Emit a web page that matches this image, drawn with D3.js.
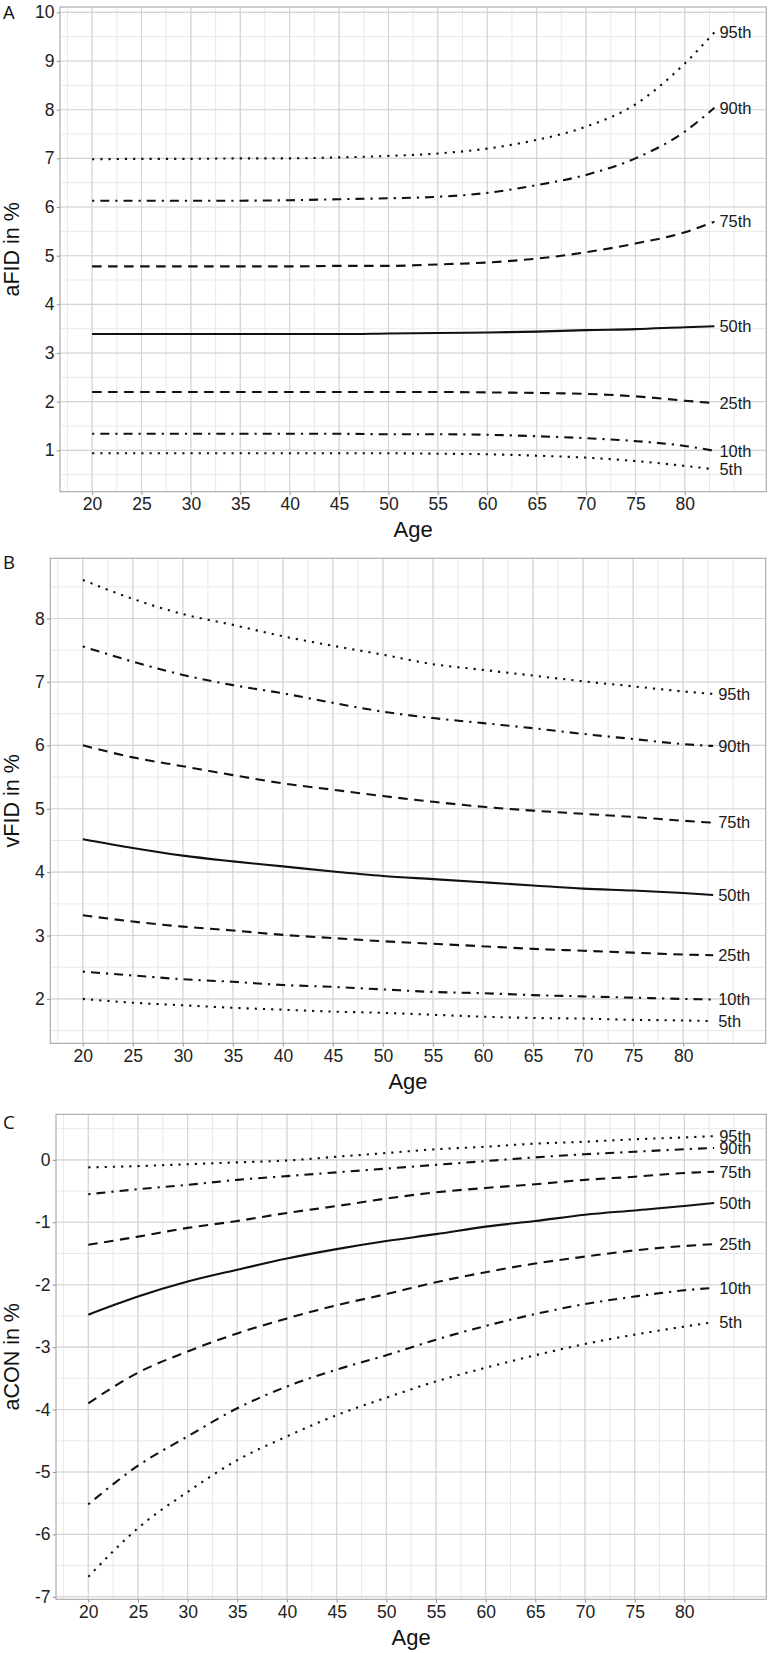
<!DOCTYPE html>
<html>
<head>
<meta charset="utf-8">
<script src="https://cdn.jsdelivr.net/npm/d3@7"></script>
<style>
  html, body { margin: 0; padding: 0; background: #fff; }
  svg { display: block; }
</style>
</head>
<body>
<svg id="chart" width="768" height="1653"></svg>
<script>
// ---------------- DATA ----------------
const ages = [20, 25, 30, 35, 40, 45, 50, 55, 60, 65, 70, 75, 80, 83];
const percentiles = ["5th", "10th", "25th", "50th", "75th", "90th", "95th"];
const xTicks = [20, 25, 30, 35, 40, 45, 50, 55, 60, 65, 70, 75, 80];

// Panel A: aFID in %
const aFID_5  = [0.94, 0.94, 0.94, 0.94, 0.94, 0.94, 0.94, 0.93, 0.92, 0.89, 0.85, 0.78, 0.68, 0.61];
const aFID_10 = [1.34, 1.34, 1.34, 1.34, 1.34, 1.34, 1.33, 1.33, 1.32, 1.29, 1.25, 1.19, 1.09, 0.99];
const aFID_25 = [2.20, 2.20, 2.20, 2.20, 2.20, 2.20, 2.20, 2.20, 2.19, 2.18, 2.16, 2.11, 2.02, 1.97];
const aFID_50 = [3.39, 3.39, 3.39, 3.39, 3.39, 3.39, 3.40, 3.41, 3.42, 3.44, 3.47, 3.49, 3.53, 3.55];
const aFID_75 = [4.78, 4.78, 4.78, 4.78, 4.78, 4.79, 4.79, 4.82, 4.86, 4.94, 5.07, 5.25, 5.48, 5.70];
const aFID_90 = [6.13, 6.13, 6.13, 6.13, 6.14, 6.16, 6.18, 6.21, 6.29, 6.45, 6.66, 7.00, 7.55, 8.04];
const aFID_95 = [6.98, 6.99, 6.99, 7.00, 7.00, 7.02, 7.05, 7.10, 7.20, 7.38, 7.65, 8.11, 8.95, 9.59];
const aFID_ticks = [1, 2, 3, 4, 5, 6, 7, 8, 9, 10];

// Panel B: vFID in %
const vFID_5  = [2.00, 1.94, 1.90, 1.86, 1.83, 1.80, 1.78, 1.75, 1.72, 1.70, 1.69, 1.67, 1.66, 1.65];
const vFID_10 = [2.43, 2.37, 2.31, 2.27, 2.22, 2.19, 2.15, 2.11, 2.09, 2.06, 2.04, 2.02, 2.00, 1.99];
const vFID_25 = [3.32, 3.22, 3.14, 3.08, 3.01, 2.96, 2.91, 2.87, 2.83, 2.79, 2.76, 2.73, 2.70, 2.69];
const vFID_50 = [4.52, 4.38, 4.26, 4.17, 4.09, 4.01, 3.94, 3.89, 3.84, 3.79, 3.74, 3.71, 3.67, 3.64];
const vFID_75 = [6.00, 5.81, 5.67, 5.53, 5.40, 5.30, 5.20, 5.11, 5.03, 4.97, 4.92, 4.87, 4.81, 4.78];
const vFID_90 = [7.56, 7.32, 7.11, 6.95, 6.82, 6.67, 6.53, 6.43, 6.35, 6.27, 6.18, 6.10, 6.02, 5.99];
const vFID_95 = [8.61, 8.31, 8.07, 7.90, 7.72, 7.57, 7.43, 7.28, 7.19, 7.10, 7.01, 6.93, 6.85, 6.81];
const vFID_ticks = [2, 3, 4, 5, 6, 7, 8];

// Panel C: aCON in %
const aCON_5  = [-6.68, -5.90, -5.32, -4.81, -4.43, -4.09, -3.81, -3.55, -3.33, -3.13, -2.95, -2.80, -2.67, -2.60];
const aCON_10 = [-5.52, -4.90, -4.43, -3.98, -3.63, -3.36, -3.13, -2.88, -2.66, -2.47, -2.31, -2.19, -2.09, -2.05];
const aCON_25 = [-3.90, -3.41, -3.07, -2.78, -2.54, -2.33, -2.15, -1.96, -1.80, -1.66, -1.55, -1.45, -1.38, -1.35];
const aCON_50 = [-2.48, -2.19, -1.95, -1.76, -1.58, -1.43, -1.30, -1.19, -1.07, -0.98, -0.88, -0.81, -0.74, -0.69];
const aCON_75 = [-1.36, -1.23, -1.09, -0.98, -0.85, -0.74, -0.62, -0.52, -0.45, -0.39, -0.32, -0.27, -0.21, -0.19];
const aCON_90 = [-0.55, -0.47, -0.40, -0.32, -0.26, -0.20, -0.14, -0.08, -0.02, 0.04, 0.09, 0.13, 0.17, 0.19];
const aCON_95 = [-0.12, -0.10, -0.07, -0.04, -0.01, 0.05, 0.11, 0.17, 0.21, 0.26, 0.29, 0.33, 0.36, 0.38];
const aCON_ticks = [-7, -6, -5, -4, -3, -2, -1, 0];

// ---------------- LAYOUT / STYLE ----------------
const xDomain = [16.75, 88.25];
const panels = [
  { letter: "A", title: "aFID in %", series: [aFID_5, aFID_10, aFID_25, aFID_50, aFID_75, aFID_90, aFID_95],
    ticks: aFID_ticks, yDomain: [0.15, 10.11], left: 60, top: 7, right: 766.3, bottom: 491.7, letterY: 19 },
  { letter: "B", title: "vFID in %", series: [vFID_5, vFID_10, vFID_25, vFID_50, vFID_75, vFID_90, vFID_95],
    ticks: vFID_ticks, yDomain: [1.30, 8.95], left: 50.3, top: 558.3, right: 765.7, bottom: 1043.3, letterY: 569 },
  { letter: "C", title: "aCON in %", series: [aCON_5, aCON_10, aCON_25, aCON_50, aCON_75, aCON_90, aCON_95],
    ticks: aCON_ticks, yDomain: [-7.04, 0.73], left: 56, top: 1114.3, right: 766.3, bottom: 1599.3, letterY: 1129 }
];

const dashFor = {
  "5th": "2.2,6", "95th": "2.2,6",
  "10th": "2.2,6,9,6", "90th": "2.2,6,9,6",
  "25th": "9.5,6.5", "75th": "9.5,6.5",
  "50th": null
};

const FONT = "'Liberation Sans', Arial, sans-serif";
const svg = d3.select("#chart");
svg.append("rect").attr("width", 768).attr("height", 1653).attr("fill", "#fff");

panels.forEach((p, pi) => {
  const x = d3.scaleLinear().domain(xDomain).range([p.left, p.right]);
  const y = d3.scaleLinear().domain(p.yDomain).range([p.bottom, p.top]);
  const g = svg.append("g");

  const clipId = "clip" + pi;
  svg.append("clipPath").attr("id", clipId)
    .append("rect").attr("x", p.left).attr("y", p.top)
    .attr("width", p.right - p.left).attr("height", p.bottom - p.top);

  const grid = g.append("g").attr("clip-path", `url(#${clipId})`);

  const xStep = xTicks[1] - xTicks[0];
  const xMinor = d3.range(xTicks[0] - xStep, xTicks[xTicks.length - 1] + xStep + 0.001, xStep / 2)
    .filter(v => v >= xDomain[0] && v <= xDomain[1]);
  const yStep = p.ticks[1] - p.ticks[0];
  const yMinor = d3.range(p.ticks[0] - yStep, p.ticks[p.ticks.length - 1] + yStep + 0.001, yStep / 2)
    .filter(v => v >= p.yDomain[0] && v <= p.yDomain[1]);

  grid.selectAll(".xminor").data(xMinor).join("line")
    .attr("x1", d => x(d)).attr("x2", d => x(d)).attr("y1", p.top).attr("y2", p.bottom)
    .attr("stroke", "#e7e7e7").attr("stroke-width", 0.9);
  grid.selectAll(".yminor").data(yMinor).join("line")
    .attr("y1", d => y(d)).attr("y2", d => y(d)).attr("x1", p.left).attr("x2", p.right)
    .attr("stroke", "#e7e7e7").attr("stroke-width", 0.9);
  grid.selectAll(".xmajor").data(xTicks).join("line")
    .attr("x1", d => x(d)).attr("x2", d => x(d)).attr("y1", p.top).attr("y2", p.bottom)
    .attr("stroke", "#d4d4d4").attr("stroke-width", 1.1);
  grid.selectAll(".ymajor").data(p.ticks).join("line")
    .attr("y1", d => y(d)).attr("y2", d => y(d)).attr("x1", p.left).attr("x2", p.right)
    .attr("stroke", "#d4d4d4").attr("stroke-width", 1.1);

  const line = d3.line().x((d, i) => x(ages[i])).y(d => y(d)).curve(d3.curveMonotoneX);
  const lines = g.append("g").attr("clip-path", `url(#${clipId})`);
  p.series.forEach((vals, si) => {
    const name = percentiles[si];
    const path = lines.append("path").datum(vals)
      .attr("d", line)
      .attr("fill", "none")
      .attr("stroke", "#111")
      .attr("stroke-width", 2.1);
    if (dashFor[name]) path.attr("stroke-dasharray", dashFor[name]);

    g.append("text")
      .attr("x", x(ages[ages.length - 1]) + 5)
      .attr("y", y(vals[vals.length - 1]))
      .attr("dy", "0.35em")
      .attr("font-family", FONT)
      .attr("font-size", 16.5)
      .attr("fill", "#1a1a1a")
      .text(name);
  });

  g.append("rect")
    .attr("x", p.left).attr("y", p.top)
    .attr("width", p.right - p.left).attr("height", p.bottom - p.top)
    .attr("fill", "none").attr("stroke", "#a6a6a6").attr("stroke-width", 1.1);

  const yAxis = d3.axisLeft(y).tickValues(p.ticks).tickSize(3.3).tickPadding(2.2)
    .tickFormat(d => String(d));
  const ya = g.append("g").attr("transform", `translate(${p.left},0)`).call(yAxis);
  const xAxis = d3.axisBottom(x).tickValues(xTicks).tickSize(3.3).tickPadding(2.5)
    .tickFormat(d => String(d));
  const xa = g.append("g").attr("transform", `translate(0,${p.bottom})`).call(xAxis);
  [ya, xa].forEach(a => {
    a.select(".domain").remove();
    a.selectAll(".tick line").attr("stroke", "#9a9a9a").attr("stroke-width", 1.1);
    a.selectAll(".tick text").attr("font-family", FONT).attr("font-size", 17.5).attr("fill", "#222");
  });

  g.append("text")
    .attr("x", (p.left + p.right) / 2)
    .attr("y", p.bottom + 45.5)
    .attr("text-anchor", "middle")
    .attr("font-family", FONT).attr("font-size", 22).attr("fill", "#111")
    .text("Age");
  g.append("text")
    .attr("transform", `translate(19,${(p.top + p.bottom) / 2}) rotate(-90)`)
    .attr("text-anchor", "middle")
    .attr("font-family", FONT).attr("font-size", 21.5).attr("fill", "#111")
    .text(p.title);

  g.append("text")
    .attr("x", 3).attr("y", p.letterY)
    .attr("font-family", "'Open Sans', 'Liberation Sans', sans-serif")
    .attr("font-size", 18.5).attr("fill", "#111")
    .text(p.letter);
});
</script>
</body>
</html>
